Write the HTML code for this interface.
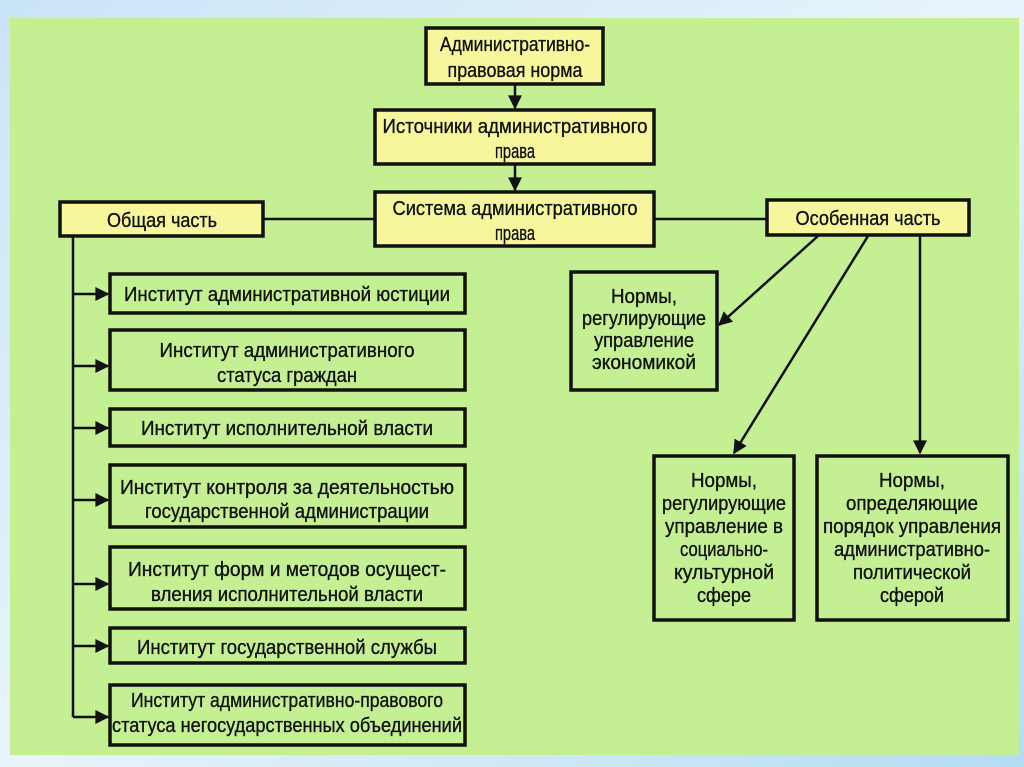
<!DOCTYPE html>
<html><head><meta charset="utf-8"><style>
html,body{margin:0;padding:0;width:1024px;height:767px;overflow:hidden;background:#d6ebf7;}
svg{display:block}
text{font-family:"Liberation Sans Narrow","Liberation Sans",sans-serif;font-size:20px;fill:#111;stroke:#111;stroke-width:0.35;text-anchor:middle}
</style></head><body>
<svg width="1024" height="767" viewBox="0 0 1024 767">
<defs>
<linearGradient id="bg" x1="0" y1="0" x2="1" y2="1">
<stop offset="0" stop-color="#c9e4f7"/><stop offset="0.5" stop-color="#e8f4fb"/><stop offset="1" stop-color="#b5dcf3"/>
</linearGradient>
<marker id="a2" viewBox="0 0 10 10" refX="9" refY="5" markerWidth="16" markerHeight="14" markerUnits="userSpaceOnUse" orient="auto">
<path d="M0,0 L10,5 L0,10 z" fill="#111"/></marker>
</defs>
<rect width="1024" height="767" fill="url(#bg)"/>
<rect x="10" y="18" width="1009" height="737" fill="#c4ef92"/>
<g stroke="#111" stroke-width="2.5" fill="none">
<line x1="515" y1="84" x2="515" y2="108" marker-end="url(#a2)"/>
<line x1="515" y1="164" x2="515" y2="190" marker-end="url(#a2)"/>
<line x1="263" y1="219" x2="375" y2="219"/>
<line x1="654" y1="219" x2="767" y2="219"/>
<line x1="73" y1="236" x2="73" y2="717"/>
<line x1="73" y1="294" x2="108" y2="294" marker-end="url(#a2)"/>
<line x1="73" y1="366" x2="108" y2="366" marker-end="url(#a2)"/>
<line x1="73" y1="428" x2="108" y2="428" marker-end="url(#a2)"/>
<line x1="73" y1="500" x2="108" y2="500" marker-end="url(#a2)"/>
<line x1="73" y1="584" x2="108" y2="584" marker-end="url(#a2)"/>
<line x1="73" y1="646" x2="108" y2="646" marker-end="url(#a2)"/>
<line x1="73" y1="717" x2="108" y2="717" marker-end="url(#a2)"/>
<line x1="818" y1="236" x2="719" y2="325" marker-end="url(#a2)"/>
<line x1="868" y1="236" x2="734" y2="453" marker-end="url(#a2)"/>
<line x1="920" y1="236" x2="920" y2="453" marker-end="url(#a2)"/>
</g>
<g stroke="#111" stroke-width="3.5" fill="#f6f79c">
<rect x="426" y="28" width="177" height="56"/>
<rect x="375" y="110" width="279" height="54"/>
<rect x="375" y="192" width="279" height="54"/>
<rect x="60" y="202" width="203" height="34"/>
<rect x="767" y="200" width="202" height="35"/>
</g>
<g stroke="#111" stroke-width="3.5" fill="#c4ef92">
<rect x="110" y="274" width="355" height="39"/>
<rect x="110" y="330" width="355" height="60"/>
<rect x="110" y="409" width="355" height="37"/>
<rect x="110" y="465" width="355" height="62"/>
<rect x="110" y="547" width="355" height="62"/>
<rect x="110" y="628" width="355" height="35"/>
<rect x="110" y="685" width="355" height="60"/>
<rect x="571" y="272" width="146" height="118"/>
<rect x="654" y="456" width="140" height="164"/>
<rect x="817" y="456" width="191" height="164"/>
</g>
<text x="515" y="51" textLength="150" lengthAdjust="spacingAndGlyphs">Административно-</text>
<text x="515" y="77" textLength="135" lengthAdjust="spacingAndGlyphs">правовая норма</text>
<text x="515" y="133" textLength="265" lengthAdjust="spacingAndGlyphs">Источники административного</text>
<text x="515" y="158" textLength="40" lengthAdjust="spacingAndGlyphs">права</text>
<text x="515" y="215" textLength="245" lengthAdjust="spacingAndGlyphs">Система административного</text>
<text x="515" y="240" textLength="40" lengthAdjust="spacingAndGlyphs">права</text>
<text x="162" y="227" textLength="110" lengthAdjust="spacingAndGlyphs">Общая часть</text>
<text x="868" y="225" textLength="145" lengthAdjust="spacingAndGlyphs">Особенная часть</text>
<text x="287" y="301" textLength="326" lengthAdjust="spacingAndGlyphs">Институт административной юстиции</text>
<text x="287" y="357" textLength="255" lengthAdjust="spacingAndGlyphs">Институт административного</text>
<text x="287" y="382" textLength="140" lengthAdjust="spacingAndGlyphs">статуса граждан</text>
<text x="287" y="435" textLength="292" lengthAdjust="spacingAndGlyphs">Институт исполнительной власти</text>
<text x="287" y="494" textLength="334" lengthAdjust="spacingAndGlyphs">Институт контроля за деятельностью</text>
<text x="287" y="518" textLength="284" lengthAdjust="spacingAndGlyphs">государственной администрации</text>
<text x="287" y="576" textLength="318" lengthAdjust="spacingAndGlyphs">Институт форм и методов осущест-</text>
<text x="287" y="601" textLength="272" lengthAdjust="spacingAndGlyphs">вления исполнительной власти</text>
<text x="287" y="654" textLength="300" lengthAdjust="spacingAndGlyphs">Институт государственной службы</text>
<text x="287" y="707" textLength="312" lengthAdjust="spacingAndGlyphs">Институт административно-правового</text>
<text x="287" y="732" textLength="350" lengthAdjust="spacingAndGlyphs">статуса негосударственных объединений</text>
<text x="644" y="303" textLength="66" lengthAdjust="spacingAndGlyphs">Нормы,</text>
<text x="644" y="325" textLength="124" lengthAdjust="spacingAndGlyphs">регулирующие</text>
<text x="644" y="347" textLength="100" lengthAdjust="spacingAndGlyphs">управление</text>
<text x="644" y="369" textLength="104" lengthAdjust="spacingAndGlyphs">экономикой</text>
<text x="724" y="487" textLength="66" lengthAdjust="spacingAndGlyphs">Нормы,</text>
<text x="724" y="510" textLength="124" lengthAdjust="spacingAndGlyphs">регулирующие</text>
<text x="724" y="533" textLength="118" lengthAdjust="spacingAndGlyphs">управление в</text>
<text x="724" y="556" textLength="88" lengthAdjust="spacingAndGlyphs">социально-</text>
<text x="724" y="579" textLength="100" lengthAdjust="spacingAndGlyphs">культурной</text>
<text x="724" y="602" textLength="54" lengthAdjust="spacingAndGlyphs">сфере</text>
<text x="912" y="487" textLength="66" lengthAdjust="spacingAndGlyphs">Нормы,</text>
<text x="912" y="510" textLength="132" lengthAdjust="spacingAndGlyphs">определяющие</text>
<text x="912" y="533" textLength="178" lengthAdjust="spacingAndGlyphs">порядок управления</text>
<text x="912" y="556" textLength="156" lengthAdjust="spacingAndGlyphs">административно-</text>
<text x="912" y="579" textLength="118" lengthAdjust="spacingAndGlyphs">политической</text>
<text x="912" y="602" textLength="64" lengthAdjust="spacingAndGlyphs">сферой</text>
</svg>
</body></html>
